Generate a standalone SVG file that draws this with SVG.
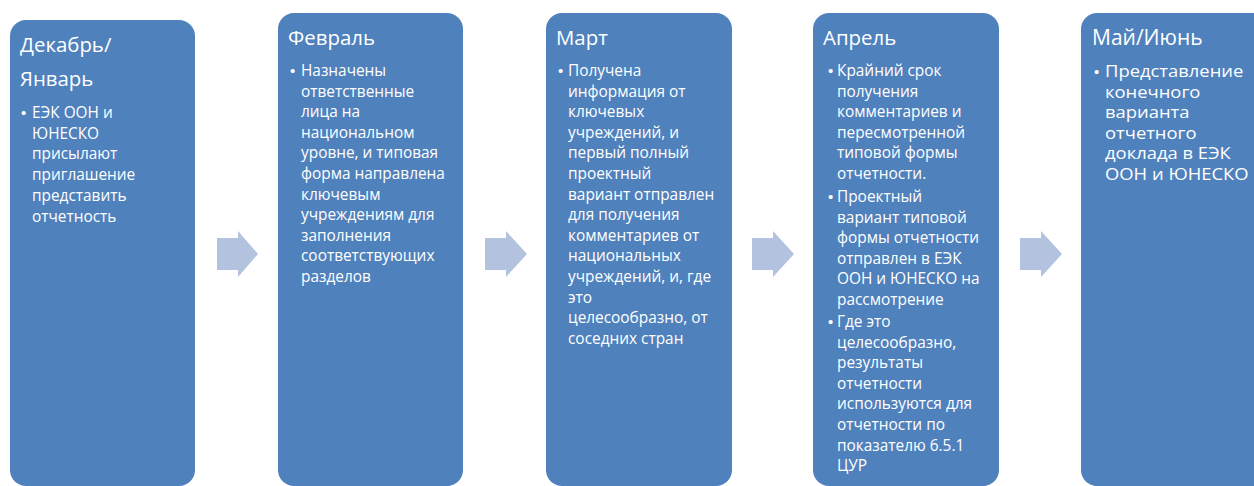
<svg xmlns="http://www.w3.org/2000/svg" width="1254" height="486" viewBox="0 0 1254 486">
<style>
.box{fill:#4f81bd}
.arr{fill:#b3c2de}
.t{font-family:"Open Sans","Liberation Sans",sans-serif;font-size:20.4px;fill:#fff}
.b{font-family:"Open Sans","Liberation Sans",sans-serif;font-size:15.4px;fill:#fff}
.b5{font-family:"Open Sans","Liberation Sans",sans-serif;font-size:16px;fill:#fff}
.d{font-family:"Liberation Sans",sans-serif;font-size:15px;fill:#fff}
</style>
<rect width="1254" height="486" fill="#fff"/>
<g id="connectors">
<polygon class="arr" points="217,238 238,238 238,231 258,254 238,277 238,270 217,270"/>
<polygon class="arr" points="485,238 506,238 506,231 527,254 506,277 506,270 485,270"/>
<polygon class="arr" points="752,238 773,238 773,231 794,254 773,277 773,270 752,270"/>
<polygon class="arr" points="1020,238 1041,238 1041,231 1062,254 1041,277 1041,270 1020,270"/>
</g>
<g id="n1">
<rect class="box" x="10" y="20" width="185" height="466" rx="16"/>
<text class="t" x="20" y="52">Декабрь/</text>
<text class="t" x="20" y="86">Январь</text>
<text class="d" x="21" y="118">•</text>
<text class="b" x="32" y="118">ЕЭК ООН и<tspan x="32" dy="20.7">ЮНЕСКО</tspan><tspan x="32" dy="20.7">присылают</tspan><tspan x="32" dy="20.7">приглашение</tspan><tspan x="32" dy="20.7">представить</tspan><tspan x="32" dy="20.7">отчетность</tspan></text>
</g>
<g id="n2">
<rect class="box" x="278" y="13" width="185" height="473" rx="16"/>
<text class="t" x="288" y="45">Февраль</text>
<text class="d" x="290" y="76">•</text>
<text class="b" x="301" y="76">Назначены<tspan x="301" dy="20.6">ответственные</tspan><tspan x="301" dy="20.6">лица на</tspan><tspan x="301" dy="20.6">национальном</tspan><tspan x="301" dy="20.6">уровне, и типовая</tspan><tspan x="301" dy="20.6">форма направлена</tspan><tspan x="301" dy="20.6">ключевым</tspan><tspan x="301" dy="20.6">учреждениям для</tspan><tspan x="301" dy="20.6">заполнения</tspan><tspan x="301" dy="20.6">соответствующих</tspan><tspan x="301" dy="20.6">разделов</tspan></text>
</g>
<g id="n3">
<rect class="box" x="546" y="13" width="186" height="473" rx="16"/>
<text class="t" x="556" y="45">Март</text>
<text class="d" x="558" y="76">•</text>
<text class="b" x="568" y="76">Получена<tspan x="568" dy="20.6">информация от</tspan><tspan x="568" dy="20.6">ключевых</tspan><tspan x="568" dy="20.6">учреждений, и</tspan><tspan x="568" dy="20.6">первый полный</tspan><tspan x="568" dy="20.6">проектный</tspan><tspan x="568" dy="20.6">вариант отправлен</tspan><tspan x="568" dy="20.6">для получения</tspan><tspan x="568" dy="20.6">комментариев от</tspan><tspan x="568" dy="20.6">национальных</tspan><tspan x="568" dy="20.6">учреждений, и, где</tspan><tspan x="568" dy="20.6">это</tspan><tspan x="568" dy="20.6">целесообразно, от</tspan><tspan x="568" dy="20.6">соседних стран</tspan></text>
</g>
<g id="n4">
<rect class="box" x="813" y="13" width="186" height="473" rx="16"/>
<text class="t" x="823" y="45">Апрель</text>
<text class="d" x="828" y="76">•</text>
<text class="b" x="837" y="76">Крайний срок<tspan x="837" dy="20.6">получения</tspan><tspan x="837" dy="20.6">комментариев и</tspan><tspan x="837" dy="20.6">пересмотренной</tspan><tspan x="837" dy="20.6">типовой формы</tspan><tspan x="837" dy="20.6">отчетности.</tspan></text>
<text class="d" x="828" y="202">•</text>
<text class="b" x="837" y="202">Проектный<tspan x="837" dy="20.6">вариант типовой</tspan><tspan x="837" dy="20.6">формы отчетности</tspan><tspan x="837" dy="20.6">отправлен в ЕЭК</tspan><tspan x="837" dy="20.6">ООН и ЮНЕСКО на</tspan><tspan x="837" dy="20.6">рассмотрение</tspan></text>
<text class="d" x="828" y="327">•</text>
<text class="b" x="837" y="327">Где это<tspan x="837" dy="20.6">целесообразно,</tspan><tspan x="837" dy="20.6">результаты</tspan><tspan x="837" dy="20.6">отчетности</tspan><tspan x="837" dy="20.6">используются для</tspan><tspan x="837" dy="20.6">отчетности по</tspan><tspan x="837" dy="20.6">показателю 6.5.1</tspan><tspan x="837" dy="20.6">ЦУР</tspan></text>
</g>
<g id="n5">
<rect class="box" x="1081" y="13" width="190" height="473" rx="16"/>
<text class="t" x="1092" y="45" style="font-size:21px">Май/Июнь</text>
<text class="d" x="1094" y="77">•</text>
<g transform="translate(1105,0) scale(1.15,1)">
<text class="b5" x="0" y="77">Представление<tspan x="0" dy="20.6">конечного</tspan><tspan x="0" dy="20.6">варианта</tspan><tspan x="0" dy="20.6">отчетного</tspan><tspan x="0" dy="20.6">доклада в ЕЭК</tspan><tspan x="0" dy="20.6">ООН и ЮНЕСКО</tspan></text>
</g>
</g>
</svg>
